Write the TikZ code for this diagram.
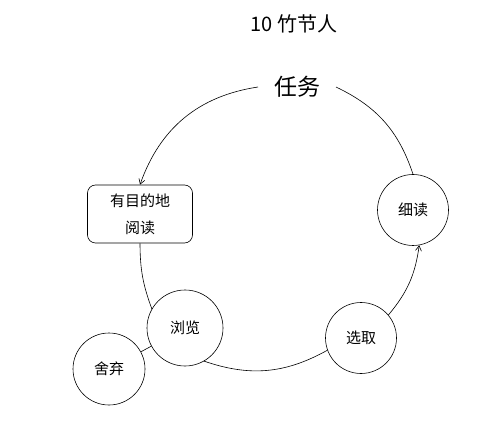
\documentclass[tikz,border=0pt]{standalone}
\usepackage{fontspec}
\setmainfont{Noto Sans CJK SC}
\usetikzlibrary{arrows.meta}

\begin{document}
\begin{tikzpicture}[x=1pt, y=-1pt, >={Straight Barb[length=5pt,width=6pt]}, font=\fontsize{15}{27}\selectfont]
    \tikzstyle{stage} = [circle, draw, line width=0.6pt, minimum size=71pt, inner sep=0pt]
    \tikzstyle{goalbox} = [rectangle, draw, line width=0.6pt, rounded corners=8pt, minimum width=105pt, minimum height=58pt, align=center]
    \tikzstyle{link} = [line width=0.6pt]

    \useasboundingbox (0,0) rectangle (500,435);

    % Title
    \node (title) at (294,24) {\fontsize{20}{22}\selectfont 10 竹节人};
    \node [outer xsep=16pt, inner xsep=0pt] (task) at (297,87) {\fontsize{23}{25}\selectfont 任务};

    % Stages
    \node [goalbox] (goal) at (140,214) {有目的地\\阅读};
    \node [stage] (intensive) at (413,210) {细读};
    \node [stage, minimum size=76pt] (browse) at (185,328) {浏览};
    \node [stage, minimum size=72pt] (discard) at (109,369) {舍弃};
    \node [stage] (select) at (361,338) {选取};

    % Connections
    \draw [->, link] (task.west) to[bend right=31] (goal.north);
    \draw [link] (task.east) to[bend left=23] (intensive.north);
    \draw [link] (goal.south) to[bend right=10] (browse.150);
    \draw [link] (browse.300) to[bend right=24] (select.200);
    \draw [->, link] (select.40) to[bend right=16] (intensive.280);
    \draw [link] (discard) -- (browse);
\end{tikzpicture}
\end{document}
